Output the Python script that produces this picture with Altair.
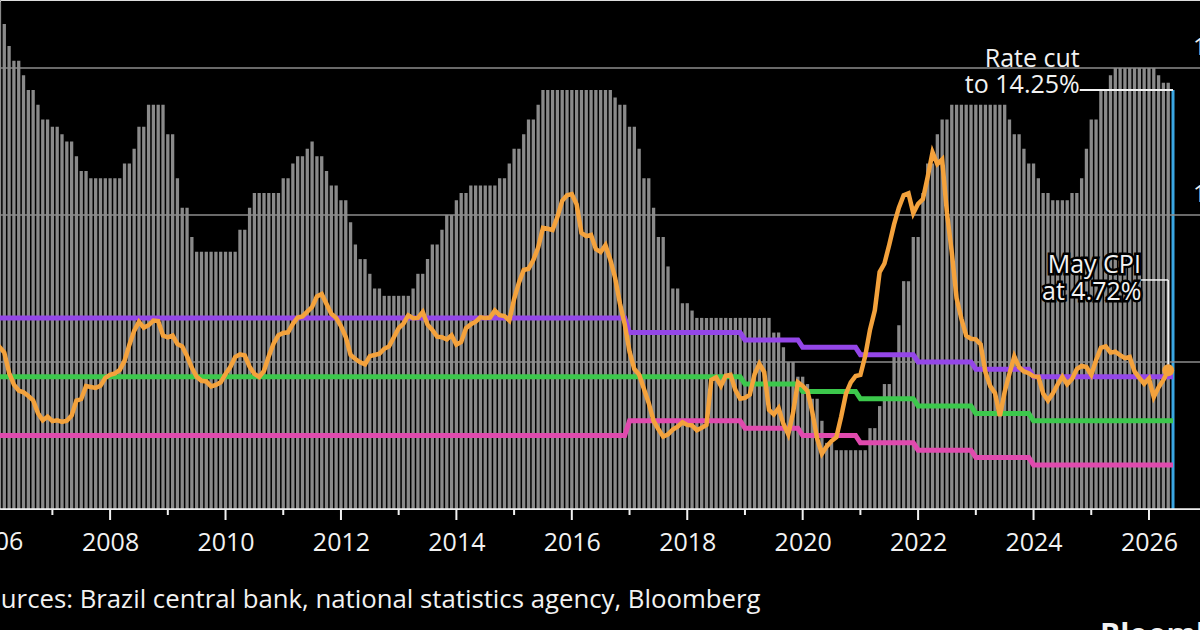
import altair as alt
import pandas as pd

# ---- Data -------------------------------------------------------------
FIRST_YEAR = 2006

# Selic target rate, month-end, Jan 2006 .. Jun 2026 (%)
SELIC = [
    17.25, 17.25, 16.5, 15.75, 15.25, 15.25, 14.75, 14.25, 14.25, 13.75, 13.25, 13.25,  # 2006
    13.0, 13.0, 12.75, 12.5, 12.5, 12.0, 11.5, 11.5, 11.25, 11.25, 11.25, 11.25,       # 2007
    11.25, 11.25, 11.25, 11.75, 11.75, 12.25, 13.0, 13.0, 13.75, 13.75, 13.75, 13.75,  # 2008
    12.75, 12.75, 11.25, 10.25, 10.25, 9.25, 8.75, 8.75, 8.75, 8.75, 8.75, 8.75,       # 2009
    8.75, 8.75, 8.75, 9.5, 9.5, 10.25, 10.75, 10.75, 10.75, 10.75, 10.75, 10.75,       # 2010
    11.25, 11.25, 11.75, 12.0, 12.0, 12.25, 12.5, 12.0, 12.0, 11.5, 11.0, 11.0,        # 2011
    10.5, 10.5, 9.75, 9.0, 8.5, 8.5, 8.0, 7.5, 7.5, 7.25, 7.25, 7.25,                  # 2012
    7.25, 7.25, 7.25, 7.5, 8.0, 8.0, 8.5, 9.0, 9.0, 9.5, 10.0, 10.0,                   # 2013
    10.5, 10.75, 10.75, 11.0, 11.0, 11.0, 11.0, 11.0, 11.0, 11.25, 11.25, 11.75,       # 2014
    12.25, 12.25, 12.75, 13.25, 13.25, 13.75, 14.25, 14.25, 14.25, 14.25, 14.25, 14.25,  # 2015
    14.25, 14.25, 14.25, 14.25, 14.25, 14.25, 14.25, 14.25, 14.25, 14.0, 13.75, 13.75,   # 2016
    13.0, 13.0, 12.25, 11.25, 11.25, 10.25, 9.25, 9.25, 8.25, 7.5, 7.5, 7.0,           # 2017
    7.0, 6.75, 6.5, 6.5, 6.5, 6.5, 6.5, 6.5, 6.5, 6.5, 6.5, 6.5,                      # 2018
    6.5, 6.5, 6.5, 6.5, 6.5, 6.5, 6.0, 6.0, 5.5, 5.0, 5.0, 4.5,                        # 2019
    4.5, 4.25, 3.75, 3.75, 3.0, 2.25, 2.25, 2.0, 2.0, 2.0, 2.0, 2.0,                   # 2020
    2.0, 2.0, 2.75, 2.75, 3.5, 4.25, 4.25, 5.25, 6.25, 7.75, 7.75, 9.25,               # 2021
    9.25, 10.75, 11.75, 11.75, 12.75, 13.25, 13.25, 13.75, 13.75, 13.75, 13.75, 13.75,  # 2022
    13.75, 13.75, 13.75, 13.75, 13.75, 13.75, 13.75, 13.25, 12.75, 12.75, 12.25, 11.75,  # 2023
    11.75, 11.25, 10.75, 10.75, 10.5, 10.5, 10.5, 10.5, 10.75, 10.75, 11.25, 12.25,   # 2024
    13.25, 13.25, 14.25, 14.25, 14.75, 15.0, 15.0, 15.0, 15.0, 15.0, 15.0, 15.0,      # 2025
    15.0, 15.0, 14.75, 14.5, 14.5, 14.25,                                            # 2026
]

# IPCA consumer prices, 12-month change, Jan 2006 .. May 2026 (%)
IPCA = [
    5.70, 5.51, 5.32, 4.63, 4.23, 4.03, 3.97, 3.84, 3.70, 3.26, 3.02, 3.14,      # 2006
    2.99, 3.02, 2.96, 3.00, 3.18, 3.69, 3.74, 4.18, 4.15, 4.12, 4.19, 4.46,      # 2007
    4.56, 4.61, 4.73, 5.04, 5.58, 6.06, 6.37, 6.17, 6.25, 6.41, 6.39, 5.90,      # 2008
    5.84, 5.90, 5.61, 5.53, 5.20, 4.80, 4.50, 4.36, 4.34, 4.17, 4.22, 4.31,      # 2009
    4.59, 4.83, 5.17, 5.26, 5.22, 4.84, 4.60, 4.49, 4.70, 5.20, 5.63, 5.91,      # 2010
    5.99, 6.01, 6.30, 6.51, 6.55, 6.71, 6.87, 7.23, 7.31, 6.97, 6.64, 6.50,      # 2011
    6.22, 5.85, 5.24, 5.10, 4.99, 4.92, 5.20, 5.24, 5.28, 5.45, 5.53, 5.84,      # 2012
    6.15, 6.31, 6.59, 6.49, 6.50, 6.70, 6.27, 6.09, 5.86, 5.84, 5.77, 5.91,      # 2013
    5.59, 5.68, 6.15, 6.28, 6.37, 6.52, 6.50, 6.51, 6.75, 6.59, 6.56, 6.41,      # 2014
    7.14, 7.70, 8.13, 8.17, 8.47, 8.89, 9.56, 9.53, 9.49, 9.93, 10.48, 10.67,    # 2015
    10.71, 10.36, 9.39, 9.28, 9.32, 8.84, 8.74, 8.97, 8.48, 7.87, 6.99, 6.29,    # 2016
    5.35, 4.76, 4.57, 4.08, 3.60, 3.00, 2.71, 2.46, 2.54, 2.70, 2.80, 2.95,      # 2017
    2.86, 2.84, 2.68, 2.76, 2.86, 4.39, 4.48, 4.19, 4.53, 4.56, 4.05, 3.75,      # 2018
    3.78, 3.89, 4.58, 4.94, 4.66, 3.37, 3.22, 3.43, 2.89, 2.54, 3.27, 4.31,      # 2019
    4.19, 4.01, 3.30, 2.40, 1.88, 2.13, 2.31, 2.44, 3.14, 3.92, 4.31, 4.52,      # 2020
    4.56, 5.20, 6.10, 6.76, 8.06, 8.35, 8.99, 9.68, 10.25, 10.67, 10.74, 10.06,  # 2021
    10.38, 10.54, 11.30, 12.13, 11.73, 11.89, 10.07, 8.73, 7.17, 6.47, 5.90, 5.79,  # 2022
    5.77, 5.60, 4.65, 4.18, 3.94, 3.16, 3.99, 4.61, 5.19, 4.82, 4.68, 4.62,      # 2023
    4.51, 4.50, 3.93, 3.69, 3.93, 4.23, 4.50, 4.24, 4.42, 4.76, 4.87, 4.83,      # 2024
    4.56, 5.06, 5.48, 5.53, 5.32, 5.35, 5.23, 5.13, 5.17, 4.68, 4.46, 4.26,      # 2025
    4.44, 3.81, 4.14, 4.39, 4.72,                                                # 2026
]

# Inflation target and tolerance band, one value per calendar year 2006..2026 (%)
TARGET = [4.5] * 13 + [4.25, 4.0, 3.75, 3.5, 3.25, 3.0, 3.0, 3.0]
UPPER = [6.5] * 11 + [6.0, 6.0, 5.75, 5.5, 5.25, 5.0, 4.75, 4.5, 4.5, 4.5]
LOWER = [2.5] * 11 + [3.0, 3.0, 2.75, 2.5, 2.25, 2.0, 1.75, 1.5, 1.5, 1.5]

GRID_VALUES = [5, 10, 15]
MAJOR_YEARS = list(range(2006, 2027, 2))
MINOR_YEARS = list(range(2007, 2027, 2))

RATE_NOTE = ["Rate cut", "to 14.25%"]
CPI_NOTE = ["May CPI", "at 4.72%"]
SOURCE = "Sources: Brazil central bank, national statistics agency, Bloomberg"
LOGO = "Bloomberg"

# ---- Styling -----------------------------------------------------------
BG = "#000000"
BAR_GREY = "#8a8a8a"
LATEST_BLUE = "#3aa6e2"
ORANGE = "#f4a23c"
PURPLE = "#9446e8"
GREEN = "#3cc84c"
MAGENTA = "#e04aae"
WHITE = "#f2f2f2"
FONT = "Open Sans"

PLOT_W, PLOT_H = 1200, 509
X_START = 2006.179
PX_PER_YEAR = 58.2
Y_MAX = 17.313
TICK_MAJOR, TICK_MINOR, LABEL_PAD = 11, 6, 10
AXIS_FONT_SIZE = 25

# ---- Tables ------------------------------------------------------------
def month_t(i):
    return FIRST_YEAR + (i // 12) + (i % 12) / 12.0

n_rate = len(SELIC)
bars = pd.DataFrame({"t": [month_t(i) for i in range(n_rate)], "v": SELIC})
bars_past = bars.iloc[:-1]
bars_latest = bars.iloc[-1:]


def band_table(yearly):
    return pd.DataFrame({"t": [month_t(i) for i in range(n_rate)],
                         "v": [yearly[i // 12] for i in range(n_rate)]})


cpi = pd.DataFrame({"t": [month_t(i) for i in range(len(IPCA))], "v": IPCA})
cpi_last = cpi.tail(1)
rate_last_t = month_t(n_rate - 1)
rate_last_v = SELIC[-1]
cpi_last_t = month_t(len(IPCA) - 1)
cpi_last_v = IPCA[-1]

grid = pd.DataFrame({"v": GRID_VALUES})
baseline = pd.DataFrame({"v": [0]})
major_ticks = pd.DataFrame({"t": MAJOR_YEARS, "v": 0})
minor_ticks = pd.DataFrame({"t": MINOR_YEARS, "v": 0})
first_label = pd.DataFrame({"t": [MAJOR_YEARS[0]], "label": [str(MAJOR_YEARS[0])]})

# leader lines for the two notes
rate_leader = pd.DataFrame({"t": [2024.80], "t1": [rate_last_t], "v": [rate_last_v]})
cpi_leader_h = pd.DataFrame({"t": [2025.85], "t1": [cpi_last_t], "v": [7.79]})
cpi_leader_v = pd.DataFrame({"t": [cpi_last_t], "v": [7.79], "v1": [cpi_last_v]})

rate_notes = pd.DataFrame({"t": [2024.80, 2024.80], "v": [15.03, 14.15], "label": RATE_NOTE})
cpi_notes = pd.DataFrame({"t": [2025.86, 2025.87], "v": [8.03, 7.11], "label": CPI_NOTE})

# ---- Scales & axes ------------------------------------------------------
XSCALE = alt.Scale(domain=[X_START, X_START + PLOT_W / PX_PER_YEAR], nice=False, zero=False)
YSCALE = alt.Scale(domain=[0, Y_MAX], nice=False, zero=False)

# year labels come from the axis; its baseline and ticks are drawn as rules below
XAXIS = alt.Axis(
    values=MAJOR_YEARS, format="d", ticks=False, domain=False, grid=False,
    labelColor=WHITE, labelFontSize=AXIS_FONT_SIZE, labelFont=FONT,
    labelPadding=TICK_MAJOR + LABEL_PAD, labelFlush=False, labelOverlap=False, title=None,
)
YAXIS = alt.Axis(
    orient="right", values=GRID_VALUES, grid=False, domain=False, ticks=False,
    labelAlign="right", labelBaseline="alphabetic", labelOffset=-14, labelPadding=20,
    labelColor=WHITE, labelFontSize=24, labelFont=FONT, title=None,
)


def X(field="t", axis=None):
    return alt.X(f"{field}:Q", scale=XSCALE, axis=axis)


def Y(field="v"):
    return alt.Y(f"{field}:Q", scale=YSCALE, axis=YAXIS)


# ---- Layers ---------------------------------------------------------------
bar_layer = alt.Chart(bars_past).mark_bar(size=3.3, clip=True, color=BAR_GREY).encode(
    x=X(axis=XAXIS), y=Y())
latest_bar = alt.Chart(bars_latest).mark_bar(size=3.0, clip=True, color=LATEST_BLUE).encode(
    x=X(), y=Y())

grid_layer = alt.Chart(grid).mark_rule(color="#8c8c8c", strokeWidth=1.5).encode(y=Y())
baseline_layer = alt.Chart(baseline).mark_rule(color=WHITE, strokeWidth=1.5).encode(y=Y())
major_tick_layer = alt.Chart(major_ticks).mark_rule(color=WHITE, strokeWidth=2).encode(
    x=X(), y=Y(), y2=alt.value(PLOT_H + TICK_MAJOR))
minor_tick_layer = alt.Chart(minor_ticks).mark_rule(color=WHITE, strokeWidth=2).encode(
    x=X(), y=Y(), y2=alt.value(PLOT_H + TICK_MINOR))


def band_layer(yearly, colour):
    return alt.Chart(band_table(yearly)).mark_line(strokeWidth=5, clip=True, color=colour).encode(
        x=X(), y=Y())


cpi_layer = alt.Chart(cpi).mark_line(color=ORANGE, strokeWidth=4.5, clip=True).encode(x=X(), y=Y())
cpi_dot = alt.Chart(cpi_last).mark_circle(color=ORANGE, size=140, opacity=1).encode(x=X(), y=Y())

rate_leader_layer = alt.Chart(rate_leader).mark_rule(color=WHITE, strokeWidth=2).encode(
    x=X(), x2="t1:Q", y=Y())
cpi_leader_h_layer = alt.Chart(cpi_leader_h).mark_rule(color=WHITE, strokeWidth=1.5).encode(
    x=X(), x2="t1:Q", y=Y())
cpi_leader_v_layer = alt.Chart(cpi_leader_v).mark_rule(color=WHITE, strokeWidth=1.5).encode(
    x=X(), y=Y(), y2="v1:Q")

rate_text = alt.Chart(rate_notes).mark_text(
    align="right", baseline="alphabetic", font=FONT, fontSize=25, color=WHITE,
).encode(x=X(), y=Y(), text="label:N")

# the CPI note sits over the bars, so it gets a dark outline underneath
cpi_halo = alt.Chart(cpi_notes).mark_text(
    align="right", baseline="alphabetic", font=FONT, fontSize=25,
    stroke=BG, strokeWidth=5, color=BG,
).encode(x=X(), y=Y(), text="label:N")
cpi_text = alt.Chart(cpi_notes).mark_text(
    align="right", baseline="alphabetic", font=FONT, fontSize=25, color=WHITE,
).encode(x=X(), y=Y(), text="label:N")

# the first year label sits left of the scale's domain, beside the axis labels
first_year_text = alt.Chart(first_label).mark_text(
    align="center", baseline="top", font=FONT, fontSize=AXIS_FONT_SIZE, color=WHITE,
).encode(x=X(), y=alt.value(PLOT_H + TICK_MAJOR + LABEL_PAD), text="label:N")

source_layer = alt.Chart(pd.DataFrame({"s": [SOURCE]})).mark_text(
    align="left", baseline="alphabetic", font=FONT, fontSize=25.75, color=WHITE,
).encode(x=alt.value(-28.8), y=alt.value(608), text="s:N")

logo_layer = alt.Chart(pd.DataFrame({"s": [LOGO]})).mark_text(
    align="left", baseline="top", font=FONT, fontSize=30, fontWeight="bold", color=WHITE,
).encode(x=alt.value(1100), y=alt.value(621), text="s:N")

chart = alt.layer(
    bar_layer, latest_bar, grid_layer,
    band_layer(UPPER, PURPLE), band_layer(TARGET, GREEN), band_layer(LOWER, MAGENTA),
    cpi_layer, baseline_layer, major_tick_layer, minor_tick_layer,
    rate_leader_layer, cpi_leader_h_layer, cpi_leader_v_layer, cpi_dot,
    rate_text, cpi_halo, cpi_text, first_year_text, source_layer, logo_layer,
).resolve_axis(x="independent").properties(
    width=PLOT_W, height=PLOT_H,
    autosize=alt.AutoSizeParams(type="none"),
    padding={"left": 0, "top": 0, "right": 0, "bottom": 121},
    background=BG,
).configure_view(stroke=None).configure(font=FONT)

chart.save("out.html", embed_options={"renderer": "svg", "actions": False})
